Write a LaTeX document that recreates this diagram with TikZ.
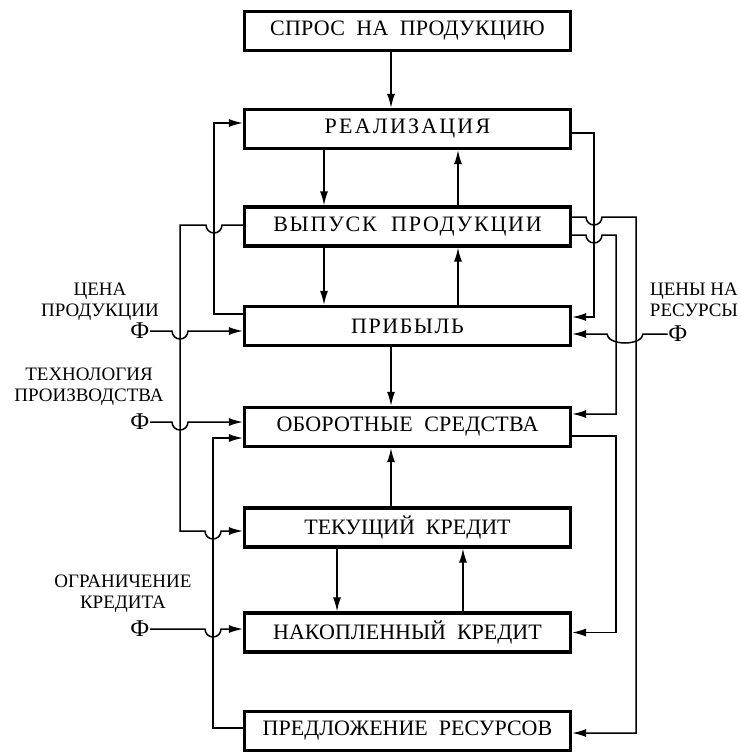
\documentclass[tikz,border=0pt]{standalone}
\usepackage{fontspec}
\setmainfont{Liberation Serif}
\usetikzlibrary{arrows.meta}
\usetikzlibrary{positioning}

\newcommand{\spaced}[2]{{\addfontfeature{LetterSpace=#1}#2}}

\begin{document}
\begin{tikzpicture}[%
        x=1pt, y=1pt, line width=1.5pt,
        >={Latex[length=14pt,width=8pt]},
        blk/.style={draw, line width=3.2pt, minimum width=326pt, minimum height=39pt,
          inner sep=0pt, font=\fontsize{22}{26}\selectfont},
        lbl/.style={align=center, inner sep=0pt, anchor=north, font=\fontsize{19}{21}\selectfont},
        inp/.style={inner sep=0pt, font=\fontsize{24}{28}\selectfont},
        hopr/.style={start angle=180, end angle=360, radius=8pt},
        hopl/.style={start angle=0, end angle=-180, radius=8pt}
      ]
      \useasboundingbox (0,0) rectangle (740,-752);
      % blocks
      \node [blk] (spros) at (407.5,-31) {\spaced{1}{СПРОС~~НА~~ПРОДУКЦИЮ}};
      \node [blk] (real) at (407.5,-129) {\spaced{10}{РЕАЛИЗАЦИЯ}};
      \node [blk] (vyp) at (407.5,-226.5) {\spaced{8}{ВЫПУСК~~ПРОДУКЦИИ}};
      \node [blk] (prib) at (407.5,-326) {\spaced{7}{ПРИБЫЛЬ}};
      \node [blk] (obor) at (407.5,-427) {\spaced{1}{ОБОРОТНЫЕ~~СРЕДСТВА}};
      \node [blk] (tek) at (407.5,-527.5) {\spaced{0}{ТЕКУЩИЙ~~КРЕДИТ}};
      \node [blk] (nak) at (407.5,-632.5) {\spaced{0}{НАКОПЛЕННЫЙ~~КРЕДИТ}};
      \node [blk] (pred) at (407.5,-731) {\spaced{0}{ПРЕДЛОЖЕНИЕ~~РЕСУРСОВ}};
      % inputs
      \node [lbl] (lcena) at (100,-282) {ЦЕНА\\ПРОДУКЦИИ};
      \node [lbl] (ltech) at (89,-367) {ТЕХНОЛОГИЯ\\ПРОИЗВОДСТВА};
      \node [lbl] (logr) at (123,-574) {ОГРАНИЧЕНИЕ\\КРЕДИТА};
      \node [lbl] (lres) at (694,-282) {ЦЕНЫ НА\\РЕСУРСЫ};
      \node [inp, anchor=east] (cena) at (150,-331) {Ф};
      \node [inp, anchor=east] (tech) at (150,-422) {Ф};
      \node [inp, anchor=east] (ogr) at (150,-629) {Ф};
      \node [inp, anchor=west] (res) at (667.5,-334) {Ф};
      % vertical flows
      \draw [->] ([xshift=-16.5pt]spros.south) -- ([xshift=-16.5pt]real.north);
      \draw [->] ([xshift=-83.5pt]real.south) -- ([xshift=-83.5pt]vyp.north);
      \draw [->] ([xshift=50.5pt]vyp.north) -- ([xshift=50.5pt]real.south);
      \draw [->] ([xshift=-83.5pt]vyp.south) -- ([xshift=-83.5pt]prib.north);
      \draw [->] ([xshift=50.5pt]prib.north) -- ([xshift=50.5pt]vyp.south);
      \draw [->] ([xshift=-16.5pt]prib.south) -- ([xshift=-16.5pt]obor.north);
      \draw [->] ([xshift=-16.5pt]tek.north) -- ([xshift=-16.5pt]obor.south);
      \draw [->] ([xshift=-70.5pt]tek.south) -- ([xshift=-70.5pt]nak.north);
      \draw [->] ([xshift=55.5pt]nak.north) -- ([xshift=55.5pt]tek.south);
      % left side
      \draw [->] ([yshift=12pt]prib.west) -- (214,-314) |- ([yshift=6pt]real.west);
      \draw [->] ([yshift=1.5pt]vyp.west) -- (222,-225) arc[hopl] -- (180,-225)
        |- (205,-531) arc[hopr] -- ([yshift=-3.5pt]tek.west);
      \draw [->] ([yshift=3pt]pred.west) -- (213,-728) |- ([yshift=-11pt]obor.west);
      \draw [->] (cena.east) -- (172,-331) arc[hopr] -- ([yshift=-5pt]prib.west);
      \draw [->] (tech.east) -- (172,-422) arc[hopr] -- ([yshift=5pt]obor.west);
      \draw [->] (ogr.east) -- (205,-629) arc[hopr] -- ([yshift=3.5pt]nak.west);
      % right side
      \draw [->] ([yshift=-4pt]real.east) -- (594,-133) |- ([yshift=9pt]prib.east);
      \draw [->] ([yshift=9.5pt]vyp.east) -- (586,-217) arc[hopr] -- (636,-217)
        |- ([yshift=-2pt]pred.east);
      \draw [->] ([yshift=-8.5pt]vyp.east) -- (586,-235) arc[hopr] -- (616,-235)
        |- ([yshift=13pt]obor.east);
      \draw [->] ([yshift=-9pt]obor.east) -- (616,-436) |- (nak.east);
      \draw [->] (res.west) -- (643,-334)
        arc[start angle=0, end angle=-180, x radius=18pt, y radius=9pt]
        -- ([yshift=-8pt]prib.east);
    \end{tikzpicture}
\end{document}
